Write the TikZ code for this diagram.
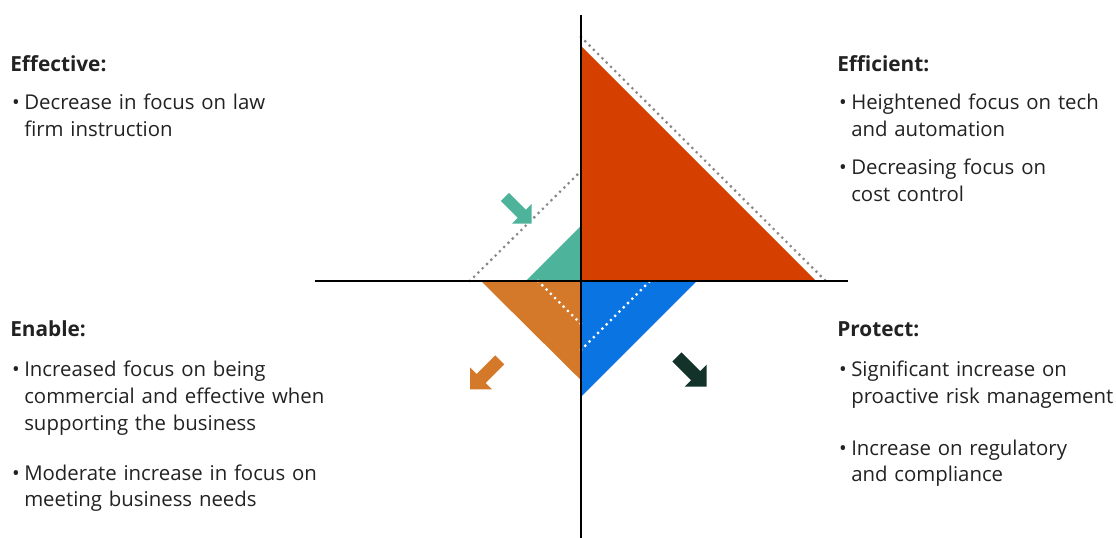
\documentclass[tikz,border=0pt]{standalone}
\usepackage{fontspec}
\setmainfont{Open Sans}
\usepackage{tikz}
\usetikzlibrary{positioning}

\definecolor{effred}{HTML}{D54000}
\definecolor{effteal}{HTML}{4DB39A}
\definecolor{enborange}{HTML}{D4782A}
\definecolor{protblue}{HTML}{0A74E3}
\definecolor{protdark}{HTML}{13332A}
\definecolor{dotgray}{HTML}{888888}
\definecolor{txt}{HTML}{222222}

\tikzset{
  head/.style={font=\bfseries\fontsize{14.8}{19.2}\selectfont, text=txt, anchor=base west, inner sep=0pt},
  bul/.style={font=\fontsize{14.5}{19.2}\selectfont, text=txt, anchor=base west, inner sep=0pt, align=left, text width=8cm},
  dots/.style={line width=2.2pt, line cap=round, dash pattern=on 0pt off 4.3pt},
  blockarrow/.pic={
    \path[pic actions] (0,-0.16) -- (0.66,-0.16) -- (0.66,-0.39) -- (1.05,0) -- (0.66,0.39) -- (0.66,0.16) -- (0,0.16) -- cycle;
  }
}
\newcommand{\bdot}{\llap{\textbullet\hspace{3.2pt}}}

\begin{document}
\begin{tikzpicture}
  \useasboundingbox (-14.525,-6.425) rectangle (13.375,7.025);

  % Triangles
  \fill[effred] (0,5.88) -- (0,0) -- (5.88,0) -- cycle;
  \fill[effteal] (0,1.375) -- (0,0) -- (-1.375,0) -- cycle;
  \fill[enborange] (-2.5,0) -- (0,0) -- (0,-2.48) -- cycle;
  \fill[protblue] (0,0) -- (2.9,0) -- (0,-2.9) -- cycle;

  % Dotted guide lines
  \draw[dots, dotgray] (0,6.1) -- (6.12,0);
  \draw[dots, dotgray] (-2.78,0) -- (0,2.75);
  \draw[dots, white] (-1.075,0) -- (0,-1.075);
  \draw[dots, white] (0,-1.725) -- (1.725,0);

  % Axes
  \coordinate (top) at (0,6.65);
  \coordinate (bottom) at (0,-6.425);
  \coordinate (left) at (-6.65,0);
  \coordinate (right) at (6.675,0);
  \draw[line width=1.6pt] (top) -- (bottom);
  \draw[line width=1.6pt] (left) -- (right);

  % Direction arrows
  \pic[fill=effteal, rotate=-45, scale=0.9] at (-1.9,2.1) {blockarrow};
  \pic[fill=enborange, rotate=-135] at (-2.03,-1.97) {blockarrow};
  \pic[fill=protdark, rotate=-45] at (2.4,-1.9) {blockarrow};

  % Effective - top left
  \node[head] (effective) at (-14.275,5.225) {Effective:};
  \node[bul] (effective1) at (-13.925,4.275) {\bdot Decrease in focus on law\\ firm instruction};

  % Efficient - top right
  \node[head] (efficient) at (6.4,5.225) {Efficient:};
  \node[bul] (efficient1) at (6.75,4.275) {\bdot Heightened focus on tech\\ and automation};
  \node[bul] (efficient2) at (6.75,2.65) {\bdot Decreasing focus on\\ cost control};

  % Enable - bottom left
  \node[head] (enable) at (-14.275,-1.4) {Enable:};
  \node[bul] (enable1) at (-13.925,-2.4) {\bdot Increased focus on being\\ commercial and effective when\\ supporting the business};
  \node[bul] (enable2) at (-13.925,-4.975) {\bdot Moderate increase in focus on\\ meeting business needs};

  % Protect - bottom right
  \node[head] (protect) at (6.4,-1.4) {Protect:};
  \node[bul] (protect1) at (6.75,-2.4) {\bdot Significant increase on\\ proactive risk management};
  \node[bul] (protect2) at (6.75,-4.35) {\bdot Increase on regulatory\\ and compliance};
\end{tikzpicture}
\end{document}
